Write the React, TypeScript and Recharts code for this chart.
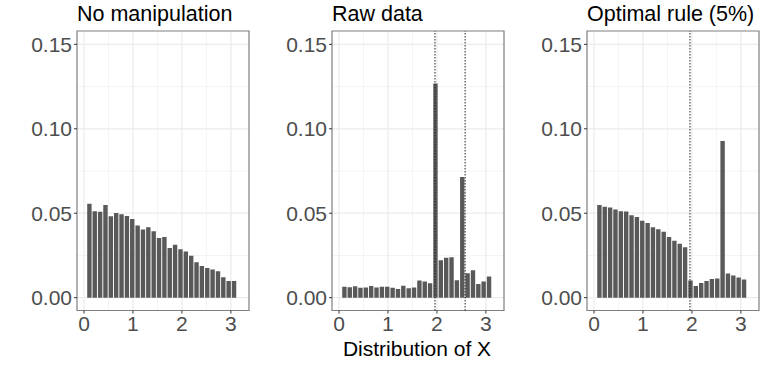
import React from "react";
import {
  Bar,
  BarChart,
  CartesianGrid,
  ReferenceArea,
  ReferenceLine,
  XAxis,
  YAxis,
} from "recharts";

const binCenters = [
  0.12, 0.229, 0.339, 0.448, 0.558, 0.667, 0.776, 0.886, 0.995, 1.105, 1.214,
  1.323, 1.433, 1.542, 1.652, 1.761, 1.87, 1.98, 2.089, 2.199, 2.308, 2.417,
  2.527, 2.636, 2.746, 2.855, 2.964, 3.074,
];

const noManipulation = [
  0.0556, 0.0512, 0.0508, 0.0548, 0.0482, 0.0502, 0.0494, 0.0484, 0.0466,
  0.0427, 0.0403, 0.0417, 0.0393, 0.0353, 0.0359, 0.0294, 0.0313, 0.0286,
  0.0274, 0.0248, 0.021, 0.0187, 0.0175, 0.0167, 0.0157, 0.0121, 0.0099,
  0.0099,
];

const rawData = [
  0.0065, 0.0062, 0.0067, 0.0058, 0.006, 0.0069, 0.006, 0.0065, 0.0065,
  0.0058, 0.0052, 0.0071, 0.0056, 0.006, 0.0101, 0.0095, 0.0085, 0.1268,
  0.0222, 0.0236, 0.024, 0.0103, 0.0714, 0.0145, 0.0163, 0.0081, 0.0095,
  0.0125,
];

const optimalRule = [
  0.0548, 0.0538, 0.0534, 0.0522, 0.0512, 0.051, 0.0488, 0.0478, 0.0456,
  0.0442, 0.0417, 0.0405, 0.0391, 0.0359, 0.0337, 0.0319, 0.0298, 0.0101,
  0.0069, 0.0087, 0.0099, 0.0111, 0.0113, 0.0927, 0.0143, 0.0131, 0.0119,
  0.0107,
];

const xTicks = [0, 1, 2, 3];
const xMinor = [0.5, 1.5, 2.5];
const yTicks = [0, 0.05, 0.1, 0.15];
const yMinor = [0.025, 0.075, 0.125];
const xDomain: [number, number] = [-0.143, 3.37];
const yDomain: [number, number] = [-0.0076, 0.1579];

const panels = [
  { title: "No manipulation", values: noManipulation, cutoffs: [] as number[] },
  { title: "Raw data", values: rawData, cutoffs: [1.96, 2.576] },
  { title: "Optimal rule (5%)", values: optimalRule, cutoffs: [1.96] },
];

const font = "'Liberation Sans', Arial, Helvetica, sans-serif";
const tickStyle = { fill: "#4D4D4D", fontSize: 21, fontFamily: font };

const Panel = ({
  title,
  values,
  cutoffs,
  left,
}: {
  title: string;
  values: number[];
  cutoffs: number[];
  left: number;
}) => {
  const data = binCenters.map((x, i) => ({ x, y: values[i] }));
  return (
    <div style={{ position: "absolute", left, top: 0, width: 251, height: 366 }}>
      <div
        style={{
          position: "absolute",
          left: 77,
          top: 0,
          fontFamily: font,
          fontSize: 21.5,
          color: "#000",
          lineHeight: "28px",
          whiteSpace: "nowrap",
        }}
      >
        {title}
      </div>
      <BarChart
        width={251}
        height={366}
        data={data}
        margin={{ top: 31, right: 2, left: 0, bottom: 25.5 }}
      >
        <CartesianGrid
          stroke="#F4F4F4"
          strokeWidth={1}
          horizontalValues={yMinor}
          verticalValues={xMinor}
        />
        <CartesianGrid
          stroke="#EBEBEB"
          strokeWidth={1.2}
          horizontalValues={yTicks}
          verticalValues={xTicks}
        />
        <XAxis
          type="number"
          dataKey="x"
          domain={xDomain}
          allowDataOverflow
          ticks={xTicks}
          height={30}
          axisLine={false}
          tickLine={{ stroke: "#333333" }}
          tickSize={3}
          tickMargin={3}
          tick={tickStyle}
        />
        <YAxis
          type="number"
          domain={yDomain}
          allowDataOverflow
          ticks={yTicks}
          width={77}
          axisLine={false}
          tickLine={{ stroke: "#333333" }}
          tickSize={3}
          tickMargin={2}
          tick={tickStyle}
          tickFormatter={(t: number) => t.toFixed(2)}
        />
        <Bar dataKey="y" fill="#595959" barSize={4.4} isAnimationActive={false} />
        {cutoffs.map((c) => (
          <ReferenceLine
            key={c}
            x={c}
            stroke="#222222"
            strokeWidth={1}
            strokeDasharray="1.5 1.5"
          />
        ))}
        <ReferenceArea
          x1={xDomain[0]}
          x2={xDomain[1]}
          y1={yDomain[0]}
          y2={yDomain[1]}
          fill="none"
          fillOpacity={0}
          stroke="#7F7F7F"
          strokeWidth={1.2}
        />
      </BarChart>
    </div>
  );
};

export default function App() {
  return (
    <div
      style={{
        position: "absolute",
        left: 0,
        top: 0,
        width: 765,
        height: 366,
        background: "#fff",
      }}
    >
      {panels.map((p, i) => (
        <Panel key={p.title} {...p} left={i * 255} />
      ))}
      <div
        style={{
          position: "absolute",
          left: 331,
          width: 172,
          top: 337,
          textAlign: "center",
          fontFamily: font,
          fontSize: 21,
          lineHeight: "24px",
          color: "#000",
          whiteSpace: "nowrap",
        }}
      >
        Distribution of X
      </div>
    </div>
  );
}
